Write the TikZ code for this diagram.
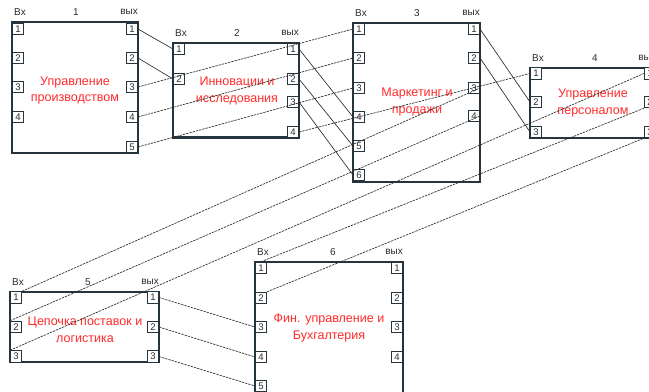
\documentclass[tikz,border=0pt]{standalone}
\usepackage{fontspec}
\setmainfont{Liberation Sans}
\definecolor{boxc}{HTML}{26343D}
\definecolor{txtc}{HTML}{2E2E2E}
\definecolor{redc}{HTML}{FF2B2B}
\definecolor{linec}{HTML}{2F2F2F}
% #1 name, #2 x1, #3 y1, #4 x2, #5 y2, #6 number, #7 number x, #8 input ys, #9 output ys
\newcommand{\mkblock}[9]{%
  \draw[boxline] (#2,#3) rectangle (#4,#5);
  \node[lbl] (#1vx) at (#2+8,#3-10) {Вх};
  \node[lbl] (#1num) at (#7,#3-10) {#6};
  \node[lbl] (#1vyx) at (#4-9,#3-10) {вых};
  \foreach \yy [count=\i] in {#8} {\node[port, anchor=west] (#1i\i) at (#2,\yy) {\i};}
  \foreach \yy [count=\i] in {#9} {\node[port, anchor=east] (#1o\i) at (#4,\yy) {\i};}
}
\begin{document}
\begin{tikzpicture}[x=0.75pt,y=-0.75pt,
  boxline/.style={draw=boxc, line width=1.6pt},
  port/.style={draw=boxc, line width=0.85pt, fill=white, inner sep=0pt,
    minimum width=8.25pt, minimum height=8.5pt,
    font=\fontsize{7.2}{7.5}\selectfont, text=txtc},
  lbl/.style={font=\fontsize{7.5}{9}\selectfont, text=txtc, inner sep=0pt},
  redtxt/.style={font=\fontsize{9.4}{12.5}\selectfont, text=redc, align=center, inner sep=0pt},
  conn/.style={draw=linec, line width=0.5pt},
  dconn/.style={conn, dash pattern=on 1.8pt off 0.7pt}]
\clip (0,0) rectangle (649,392);
\fill[white] (0,0) rectangle (649,392);

\mkblock{b1}{12}{22}{138}{153}{1}{76}{29,58,87,117}{29,58,87,117,147}
\mkblock{b2}{173}{43}{299}{137.5}{2}{237}{49,79}{49,79,102,132}
\mkblock{b3}{353}{23}{480}{182}{3}{417}{29,58,88,117,146,175}{29,58,88,116}
\mkblock{b4}{530}{68}{656}{138}{4}{595}{73.5,102,132}{73.5,102,132}
\mkblock{b5}{10}{292}{159}{362}{5}{88}{297.5,327,356.5}{297.5,327,356.5}
\mkblock{b6}{255}{262}{403}{420}{6}{333}{268,298,327,357,386}{268,298,327,357}

\node[redtxt] (t1) at (75,90.5) {Управление\\производством};
\node[redtxt] (t2) at (237,91) {Инновации и\\исследования};
\node[redtxt] (t3) at (417,102) {Маркетинг и\\продажи};
\node[redtxt] (t4) at (593,103) {Управление\\персоналом};
\node[redtxt] (t5) at (85,330) {Цепочка поставок и\\логистика};
\node[redtxt] (t6) at (329,328) {Фин. управление и\\Бухгалтерия};

% connectors
\draw[conn] (b1o1.east) -- (b2i1.west);
\draw[conn] (b1o2.east) -- (b2i2.west);
\draw[dconn] (b1o3.east) -- (b3i1.west);
\draw[dconn] (b1o4.east) -- (b3i2.west);
\draw[dconn] (b1o5.east) -- (b3i3.west);
\draw[conn] (b2o1.east) -- (b3i4.west);
\draw[conn] (b2o2.east) -- (b3i5.west);
\draw[conn] (b2o3.east) -- (b3i6.west);
\draw[dconn] (b2o4.east) -- (b4i1.west);
\draw[conn] (b3o1.east) -- (b4i2.west);
\draw[conn] (b3o2.east) -- (b4i3.west);
\draw[dconn] (b5i1.north east) -- (b3o3.east);
\draw[dconn] (b5i2.north west) -- (b3o4.east);
\draw[dconn] (b5i3.north west) -- (b4o1.west);
\draw[dconn] (b6i1.north) -- (b4o2.south west);
\draw[dconn] (b6i2.north east) -- (b4o3.south west);
\draw[dconn] (b5o1.east) -- (b6i3.west);
\draw[dconn] (b5o2.east) -- (b6i4.west);
\draw[dconn] (b5o3.east) -- (b6i5.west);
\end{tikzpicture}
\end{document}
